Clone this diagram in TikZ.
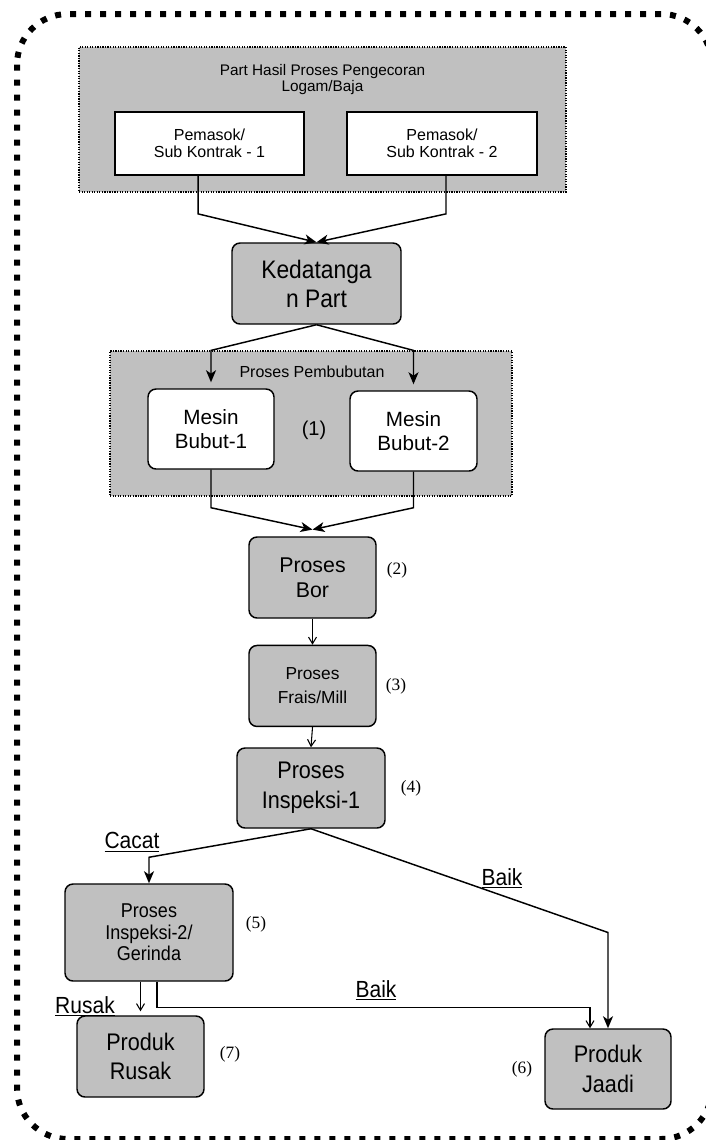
\documentclass[tikz,border=0pt]{standalone}
\usepackage{fontspec}
\setmainfont{Liberation Sans}
\newfontfamily\sempit{Liberation Sans}[FakeStretch=0.9]
\newfontfamily\serifangka{Liberation Serif}
\usepackage{tikz}
\usetikzlibrary{arrows.meta,positioning}
\definecolor{abu}{HTML}{C0C0C0}
\tikzset{
    %Define standard arrow tip
    >={Stealth[length=9pt,width=7.5pt,inset=2.5pt]},
    %Define style for grey process boxes
    kotak/.style={
           rectangle,
           rounded corners=6pt,
           draw=black, line width=1.1pt,
           fill=abu,
           inner sep=0pt,
           align=center},
    kotakputih/.style={
           kotak,
           fill=white},
    % Define style for dotted groups
    grup/.style={
           rectangle,
           draw=black, densely dotted, line width=0.9pt,
           fill=abu,
           inner sep=0pt},
    % Define arrow styles
    pil/.style={
           ->,
           line width=1.1pt},
    pilkecil/.style={
           -{Straight Barb[length=5pt,width=6pt]},
           line width=0.8pt},
    angka/.style={font=\serifangka\fontsize{13}{15}\selectfont},
    ket/.style={font=\sempit\fontsize{17.5}{20}\selectfont}
}

\begin{document}
\begin{tikzpicture}[x=0.75pt,y=-0.75pt]
      \useasboundingbox (0,0) rectangle (706,1140);
      \draw[line width=4.5pt, dash pattern=on 4.5pt off 6.75pt, rounded corners=38pt]
        (17,14) rectangle (712,1139);

      % pemasok
      \node[grup, minimum width=365.25pt, minimum height=108.75pt] (grupA) at (322.5,119.5) {};
      \node[align=center, font=\fontsize{11.5}{12}\selectfont] (judulA) at (322.5,80)
        {Part Hasil Proses Pengecoran\\Logam/Baja};
      \node[kotakputih, rounded corners=0pt, line width=1.3pt, minimum width=141.75pt, minimum height=47.25pt,
        font=\fontsize{12}{13}\selectfont] (pem1) at (209.5,143.5) {Pemasok/\\Sub Kontrak - 1};
      \node[kotakputih, rounded corners=0pt, line width=1.3pt, minimum width=142.5pt, minimum height=47.25pt,
        font=\fontsize{12}{13}\selectfont] (pem2) at (442,143.5) {Pemasok/\\Sub Kontrak - 2};

      \node[kotak, minimum width=126.75pt, minimum height=60.75pt,
        font=\sempit\fontsize{19}{21.75}\selectfont] (ked) at (316.5,283.5) {Kedatanga\\n Part};

      % pembubutan
      \node[grup, minimum width=301.5pt, minimum height=108.75pt] (grupB) at (311,423.5) {};
      \node[font=\fontsize{12}{13}\selectfont] (judulB) at (312,372) {Proses Pembubutan};
      \node[kotakputih, minimum width=94.5pt, minimum height=60pt,
        font=\fontsize{15.5}{18}\selectfont] (bubut1) at (211,429) {Mesin\\Bubut-1};
      \node[kotakputih, minimum width=95.25pt, minimum height=60pt,
        font=\fontsize{15.5}{18}\selectfont] (bubut2) at (413.5,431) {Mesin\\Bubut-2};
      \node[font=\fontsize{15}{17}\selectfont] (n1) at (314,430) {(1)};

      \node[kotak, minimum width=95.25pt, minimum height=60.75pt,
        font=\fontsize{16}{18.75}\selectfont] (bor) at (312.5,577.5) {Proses\\Bor};
      \node[kotak, minimum width=95.25pt, minimum height=60.75pt,
        font=\fontsize{13}{18}\selectfont, below=19.5pt of bor] (frais) {Proses\\Frais/Mill};
      \node[kotak, minimum width=111pt, minimum height=60pt,
        font=\sempit\fontsize{18}{22.5}\selectfont] (insp1) at (311,788) {Proses\\Inspeksi-1};
      \node[kotak, minimum width=126pt, minimum height=72.75pt,
        font=\sempit\fontsize{15}{16}\selectfont] (insp2) at (149,932.5) {Proses\\Inspeksi-2/\\Gerinda};
      \node[kotak, minimum width=95.25pt, minimum height=60.75pt,
        font=\sempit\fontsize{18}{22}\selectfont] (rusak) at (140.5,1056.5) {Produk\\Rusak};
      \node[kotak, minimum width=94.5pt, minimum height=60pt,
        font=\sempit\fontsize{18}{22}\selectfont] (jadi) at (608,1069) {Produk\\Jaadi};

      \node[angka] (n2) at (397,570) {(2)};
      \node[angka] (n3) at (396,686) {(3)};
      \node[angka] (n4) at (411,788) {(4)};
      \node[angka] (n5) at (256,924) {(5)};
      \node[angka] (n6) at (522,1069) {(6)};
      \node[angka] (n7) at (230,1054) {(7)};

      \node[ket] (cacat) at (132,842) {\underline{Cacat}};
      \node[ket] (baik1) at (502,878) {\underline{Baik}};
      \node[ket] (baik2) at (376,990) {\underline{Baik}};
      \node[ket] (rsk) at (85,1006) {\underline{Rusak}};

      \coordinate[above=19.5pt of insp2.north] (tekuk);

      \draw[pil] ([xshift=-8.6pt]pem1.south) -- ++(0,38) -- (ked.north);
      \draw[pil] ([xshift=3pt]pem2.south) -- ++(0,38) -- (ked.north);
      \draw[pil] (ked.south) -- (bubut1.north |- grupB.north) -- ([yshift=4.5pt]bubut1.north);
      \draw[pil] (ked.south) -- (bubut2.north |- grupB.north) -- ([yshift=4.5pt]bubut2.north);
      \draw[pil] (bubut1.south) -- ++(0,38) -- ([yshift=5pt]bor.north);
      \draw[pil] (bubut2.south) -- ++(0,36) -- ([yshift=5pt]bor.north);
      \draw[pilkecil] (bor.south) -- (frais.north);
      \draw[pilkecil] (frais.south) -- (insp1.north);
      \draw[pil] (insp1.south) -- (tekuk) -- (insp2.north);
      \draw[pil] (insp1.south) -- (jadi.north |- insp2.east) -- (jadi.north);
      \draw[pilkecil] (insp2.south -| rusak.north) -- ([yshift=3pt]rusak.north);
      \draw[pilkecil] ([xshift=6pt]insp2.south) -- ++(0,26) -| ([xshift=-13.5pt]jadi.north);
  \end{tikzpicture}
\end{document}
